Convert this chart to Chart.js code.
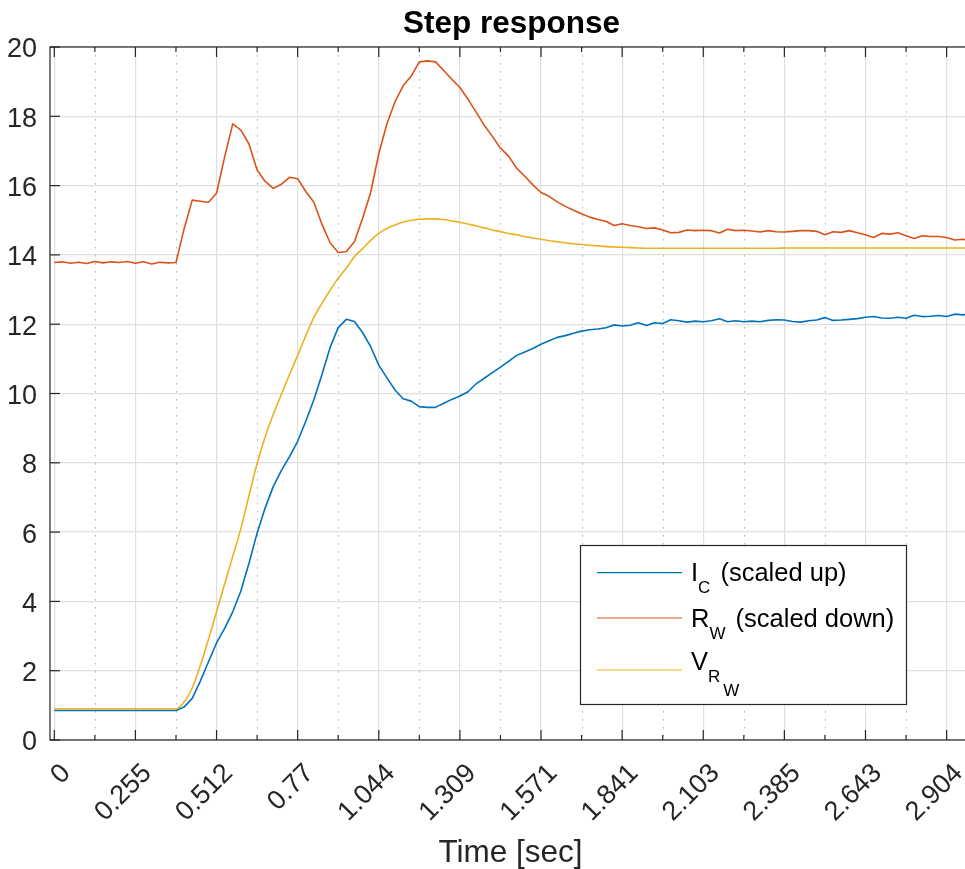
<!DOCTYPE html>
<html>
<head>
<meta charset="utf-8">
<title>Step response</title>
<script src="https://cdn.jsdelivr.net/npm/chart.js@4/dist/chart.umd.min.js"></script>
<style>
  html, body { margin: 0; padding: 0; overflow: hidden; background: #ffffff; }
  canvas { display: block; }
</style>
</head>
<body>
<canvas id="chart" width="976" height="869"></canvas>
<script>
// Time stamps shown under each major tick (one tick per block of samples)
const TIME_LABELS = ['0', '0.255', '0.512', '0.77', '1.044', '1.309', '1.571', '1.841', '2.103', '2.385', '2.643', '2.904'];
const SAMPLES_PER_TICK = 10;
const Y_MIN = 0;
const Y_MAX = 20;
const Y_STEP = 2;

// Collector current, scaled up
const I_C = [
  0.85, 0.85, 0.85, 0.85, 0.85, 0.85, 0.85, 0.85, 0.85, 0.85, 0.85, 0.85, 0.85, 0.85, 0.85, 0.85,
  0.95, 1.2, 1.7, 2.25, 2.8, 3.22, 3.7, 4.3, 5.1, 5.97,
  6.7, 7.32, 7.78, 8.18, 8.62, 9.2, 9.82, 10.55, 11.33, 11.9,
  12.14, 12.08, 11.76, 11.35, 10.82, 10.45, 10.1, 9.85, 9.78, 9.62,
  9.6, 9.6, 9.72, 9.83, 9.93, 10.05, 10.28, 10.44, 10.6, 10.76,
  10.93, 11.1, 11.2, 11.3, 11.42, 11.52, 11.62, 11.67, 11.74, 11.8,
  11.84, 11.86, 11.9, 11.98, 11.95, 11.97, 12.04, 11.96, 12.04, 12.02,
  12.13, 12.1, 12.06, 12.09, 12.07, 12.1, 12.16, 12.07, 12.1, 12.07,
  12.09, 12.07, 12.11, 12.13, 12.12, 12.08, 12.06, 12.1, 12.12, 12.19,
  12.11, 12.12, 12.14, 12.16, 12.2, 12.22, 12.18, 12.17, 12.2, 12.17,
  12.26, 12.22, 12.23, 12.25, 12.22, 12.29, 12.27, 12.31, 12.3
];

// Wire resistance, scaled down
const R_W = [
  13.78, 13.80, 13.76, 13.79, 13.75, 13.81, 13.77, 13.80, 13.78, 13.81, 13.76, 13.80, 13.74, 13.79, 13.77, 13.78,
  14.75, 15.58, 15.55, 15.52, 15.78, 16.83, 17.78, 17.6, 17.2, 16.45, 16.12, 15.92, 16.04, 16.24,
  16.2, 15.83, 15.52, 14.88, 14.35, 14.07, 14.1, 14.38, 15.05, 15.8,
  16.92, 17.78, 18.42, 18.88, 19.16, 19.57, 19.6, 19.57, 19.32, 19.07,
  18.83, 18.49, 18.12, 17.74, 17.42, 17.08, 16.85, 16.5, 16.27, 16.02,
  15.8, 15.69, 15.53, 15.4, 15.29, 15.19, 15.09, 15.02, 14.97, 14.85,
  14.9, 14.85, 14.81, 14.76, 14.78, 14.72, 14.64, 14.65, 14.72, 14.7,
  14.71, 14.7, 14.63, 14.74, 14.7, 14.71, 14.69, 14.66, 14.7, 14.67,
  14.66, 14.68, 14.7, 14.7, 14.68, 14.58, 14.67, 14.65, 14.7, 14.64,
  14.58, 14.5, 14.62, 14.6, 14.64, 14.55, 14.47, 14.55, 14.53, 14.53,
  14.5, 14.43, 14.45, 14.4, 14.42
];

// Voltage across the wire
const V_RW = [
  0.9, 0.9, 0.9, 0.9, 0.9, 0.9, 0.9, 0.9, 0.9, 0.9, 0.9, 0.9, 0.9, 0.9, 0.9, 0.9,
  1.1, 1.5, 2.15, 2.9, 3.7, 4.5, 5.3, 6.1, 7.05, 7.98,
  8.75, 9.4, 9.98, 10.55, 11.1, 11.67, 12.2, 12.6, 12.98, 13.33,
  13.62, 13.95, 14.18, 14.42, 14.62, 14.76, 14.86, 14.95, 15.0, 15.03,
  15.04, 15.04, 15.02, 14.98, 14.94, 14.89, 14.84, 14.78, 14.72, 14.67,
  14.62, 14.58, 14.53, 14.49, 14.45, 14.41, 14.38, 14.35, 14.32, 14.3,
  14.28, 14.26, 14.24, 14.23, 14.22, 14.21, 14.2, 14.19, 14.19, 14.19,
  14.19, 14.19, 14.19, 14.19, 14.19, 14.19, 14.19, 14.19, 14.19, 14.19,
  14.19, 14.19, 14.19, 14.19, 14.2, 14.2, 14.2, 14.2, 14.2, 14.2,
  14.2, 14.2, 14.2, 14.2, 14.2, 14.2, 14.2, 14.2, 14.2, 14.2,
  14.2, 14.2, 14.2, 14.2, 14.2, 14.2, 14.2, 14.2, 14.2
];

const FONT = '"Liberation Sans", Arial, Helvetica, sans-serif';
const INK = '#262626';
const COLORS = { ic: '#0072BD', rw: '#D95319', vrw: '#EDB120' };

const toPoints = arr => arr.map((v, i) => ({ x: i / SAMPLES_PER_TICK, y: v }));

// Legend rows: text pieces with subscript level (0 = normal, 1 = sub, 2 = sub-sub)
const LEGEND_ROWS = [
  { ds: 0, lineDy: 27.7, baseDy: 36, parts: [['I', 0], ['C', 1], [' (scaled up)', 0]] },
  { ds: 1, lineDy: 73, baseDy: 82, parts: [['R', 0], ['W', 1], [' (scaled down)', 0]] },
  { ds: 2, lineDy: 125, baseDy: 125, parts: [['V', 0], ['R', 1], ['W', 2]] }
];

function seg(ctx, x1, y1, x2, y2) {
  ctx.beginPath(); ctx.moveTo(x1, y1); ctx.lineTo(x2, y2); ctx.stroke();
}

const axesDecor = {
  id: 'axesDecor',
  beforeDatasetsDraw(chart) {
    const { ctx, chartArea: a, scales: { x } } = chart;
    ctx.save();
    ctx.beginPath();
    ctx.rect(a.left, a.top, a.right - a.left, a.bottom - a.top);
    ctx.clip();
    // dotted minor grid halfway between labelled ticks
    ctx.strokeStyle = '#b2b2b2';
    ctx.lineWidth = 1;
    ctx.setLineDash([1.5, 6.5]);
    for (let i = 0; i < TIME_LABELS.length; i++) {
      const px = Math.round(x.getPixelForValue(i + 0.5)) + 0.5;
      if (px > a.right) continue;
      seg(ctx, px, a.top, px, a.bottom);
    }
    ctx.restore();
  },
  afterDatasetsDraw(chart) {
    const { ctx, chartArea: a, scales: { x, y } } = chart;
    ctx.save();
    ctx.strokeStyle = INK;
    ctx.lineWidth = 1.2;

    // inward tick marks on all four sides
    for (let i = 0; i < TIME_LABELS.length; i++) {
      [[i, 10], [i + 0.5, 5]].forEach(([v, len]) => {
        const px = x.getPixelForValue(v);
        if (px > a.right) return;
        seg(ctx, px, a.bottom, px, a.bottom - len);
        seg(ctx, px, a.top, px, a.top + len);
      });
    }
    y.ticks.forEach(t => {
      const py = y.getPixelForValue(t.value);
      seg(ctx, a.left, py, a.left + 10, py);
      seg(ctx, a.right, py, a.right - 10, py);
    });
    ctx.strokeRect(a.left, a.top, a.right - a.left, a.bottom - a.top);

    ctx.fillStyle = INK;
    ctx.font = '27px ' + FONT;

    // value labels on the left axis
    ctx.textAlign = 'right';
    ctx.textBaseline = 'middle';
    y.ticks.forEach(t => {
      ctx.fillText(String(t.value), a.left - 13, y.getPixelForValue(t.value) + 3);
    });

    // rotated time labels
    TIME_LABELS.forEach((lab, i) => {
      const px = x.getPixelForValue(i);
      ctx.save();
      ctx.translate(px + 12, a.bottom + 29);
      ctx.rotate(-Math.PI / 4);
      ctx.fillText(lab, 0, 0);
      ctx.restore();
    });

    // title and axis title
    const cx = (a.left + a.right) / 2;
    ctx.textAlign = 'center';
    ctx.textBaseline = 'alphabetic';
    ctx.fillStyle = '#000000';
    ctx.font = 'bold 31.5px ' + FONT;
    ctx.fillText('Step response', cx - 1, 33);
    ctx.fillStyle = INK;
    ctx.font = '31.5px ' + FONT;
    ctx.fillText('Time [sec]', cx - 2, a.bottom + 121.5);

    // legend box
    const L = { x: a.right - 395, y: a.bottom - 195, w: 326, h: 159 };
    ctx.fillStyle = '#ffffff';
    ctx.fillRect(L.x, L.y, L.w, L.h);
    ctx.strokeStyle = INK;
    ctx.lineWidth = 1.2;
    ctx.strokeRect(L.x + 0.5, L.y + 0.5, L.w, L.h);

    ctx.textAlign = 'left';
    LEGEND_ROWS.forEach(row => {
      const ds = chart.data.datasets[row.ds];
      ctx.strokeStyle = ds.borderColor;
      ctx.lineWidth = 1.2;
      seg(ctx, L.x + 17, L.y + row.lineDy, L.x + 102, L.y + row.lineDy);
      let tx = L.x + 111;
      const base = L.y + row.baseDy;
      ctx.fillStyle = '#000000';
      row.parts.forEach(([txt, lvl], k) => {
        ctx.font = (lvl === 0 ? 25.5 : 17) + 'px ' + FONT;
        const by = base + (lvl === 0 ? 0 : lvl === 1 ? 12 : 26);
        ctx.fillText(txt, tx, by);
        tx += ctx.measureText(txt).width;
        // a little breathing room after a subscript
        if (lvl > 0) tx += 3;
      });
    });
    ctx.restore();
  }
};

new Chart(document.getElementById('chart'), {
  type: 'line',
  data: {
    datasets: [
      { label: 'I_C (scaled up)', data: toPoints(I_C), borderColor: COLORS.ic, order: 2 },
      { label: 'R_W (scaled down)', data: toPoints(R_W), borderColor: COLORS.rw, order: 1 },
      { label: 'V_R_W', data: toPoints(V_RW), borderColor: COLORS.vrw, order: 0, cubicInterpolationMode: 'monotone' }
    ]
  },
  options: {
    responsive: false,
    animation: false,
    devicePixelRatio: 1,
    parsing: false,
    elements: {
      line: { borderWidth: 1.6, tension: 0, fill: false, borderJoinStyle: 'round' },
      point: { radius: 0, hoverRadius: 0 }
    },
    layout: { padding: { top: 47, right: 1, left: 0, bottom: 0 } },
    plugins: {
      legend: { display: false },
      title: { display: false },
      tooltip: { enabled: false }
    },
    events: [],
    scales: {
      x: {
        type: 'linear',
        min: -0.053,
        max: 11.35,
        afterBuildTicks: s => { s.ticks = TIME_LABELS.map((_, i) => ({ value: i })); },
        afterFit: s => { s.height = 129; },
        ticks: { display: false },
        grid: { color: '#dfdfdf', lineWidth: 1.2, drawTicks: false },
        border: { display: false }
      },
      y: {
        min: Y_MIN,
        max: Y_MAX,
        afterFit: s => { s.width = 50; },
        ticks: { stepSize: Y_STEP, display: false },
        grid: { color: '#dfdfdf', lineWidth: 1.2, drawTicks: false },
        border: { display: false }
      }
    }
  },
  plugins: [axesDecor]
});
</script>
</body>
</html>
